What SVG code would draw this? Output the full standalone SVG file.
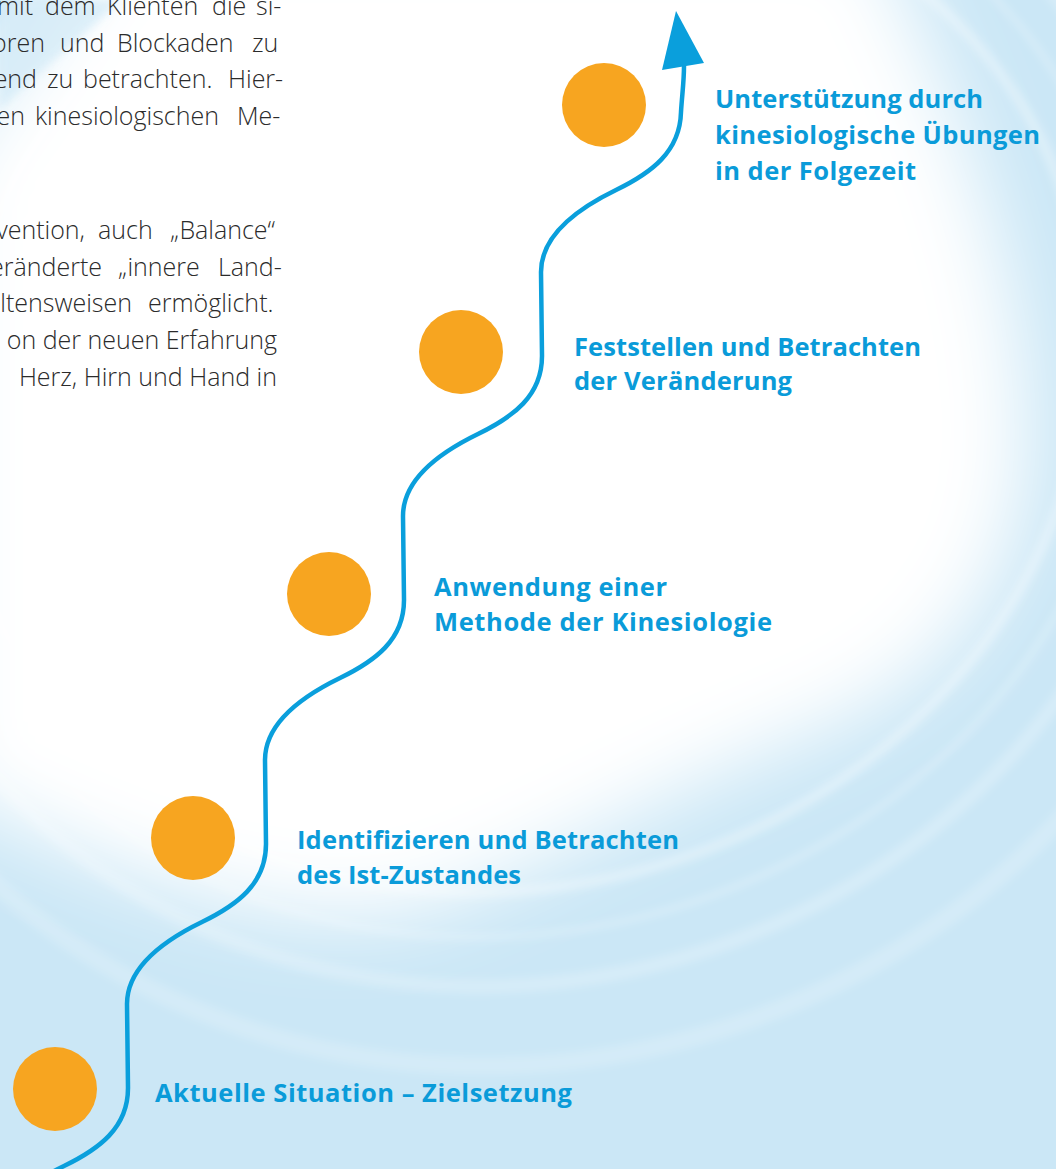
<svg xmlns="http://www.w3.org/2000/svg" width="1056" height="1169" viewBox="0 0 1056 1169">
  <defs>
    <filter id="soft" x="-20%" y="-20%" width="140%" height="140%">
      <feGaussianBlur stdDeviation="40"/>
    </filter>
    <filter id="streak" x="-10%" y="-10%" width="120%" height="120%">
      <feGaussianBlur stdDeviation="4"/>
    </filter>
    <style>
      .body { font-family: "Open Sans", "Noto Sans", "Liberation Sans", sans-serif; font-weight: 300; font-size: 25px; fill: #2b2b2b; }
      .end { text-anchor: end; }
      .label { font-family: "Open Sans", "Noto Sans", "Liberation Sans", sans-serif; font-weight: 700; font-size: 25.5px; fill: #0a9bd9; }
      .dot { fill: #f7a520; }
      .path { fill: none; stroke: #0a9fdc; stroke-width: 4.5; stroke-linecap: round; stroke-linejoin: round; }
      .arrow { fill: #0a9fdc; }
      .swirl { fill: none; stroke: #ffffff; }
    </style>
  </defs>

  <!-- background: pale blue with a soft white swirl -->
  <g id="background">
    <rect x="0" y="0" width="1056" height="1169" fill="#cbe7f6"/>
    <path filter="url(#soft)" fill="#ffffff" d="M110,-80 L870,-80 C960,100 1040,310 1025,480 C1005,610 930,690 800,740 C650,800 520,880 420,910 C300,935 160,900 -60,790 L-60,170 C0,80 50,20 110,-80 Z"/>
    <g filter="url(#streak)">
      <ellipse class="swirl" cx="520" cy="380" rx="575" ry="505" transform="rotate(-18 520 380)" stroke-width="10" opacity="0.35"/>
      <ellipse class="swirl" cx="520" cy="380" rx="620" ry="550" transform="rotate(-18 520 380)" stroke-width="5" opacity="0.3"/>
      <ellipse class="swirl" cx="520" cy="380" rx="665" ry="600" transform="rotate(-18 520 380)" stroke-width="14" opacity="0.22"/>
      <ellipse class="swirl" cx="520" cy="380" rx="740" ry="680" transform="rotate(-18 520 380)" stroke-width="18" opacity="0.18"/>
    </g>
    <!-- faint blue wisps in the upper left corner -->
    <path filter="url(#streak)" fill="#d6ecf8" opacity="0.8" d="M0,0 L120,0 C90,30 40,70 0,110 Z"/>
  </g>

  <!-- running text, cut at the left margin -->
  <g id="body-text">
    <text class="body end" x="33" y="15">mit</text>
    <text class="body" y="15"><tspan x="45">dem</tspan><tspan x="107">Klienten</tspan><tspan x="212">die</tspan><tspan x="256">si-</tspan></text>
    <text class="body end" x="45" y="52">oren</text>
    <text class="body" y="52"><tspan x="60">und</tspan><tspan x="117">Blockaden</tspan><tspan x="252">zu</tspan></text>
    <text class="body end" x="37" y="88">end</text>
    <text class="body" y="88"><tspan x="47">zu</tspan><tspan x="83">betrachten.</tspan><tspan x="228">Hier-</tspan></text>
    <text class="body end" x="25" y="125">en</text>
    <text class="body" y="125"><tspan x="35">kinesiologischen</tspan><tspan x="237">Me-</tspan></text>

    <text class="body end" x="85" y="239">vention,</text>
    <text class="body" y="239"><tspan x="98">auch</tspan><tspan x="170">„Balance“</tspan></text>
    <text class="body end" x="102" y="276">eränderte</text>
    <text class="body" y="276"><tspan x="118">„innere</tspan><tspan x="218">Land-</tspan></text>
    <text class="body end" x="132" y="312">ltensweisen</text>
    <text class="body" y="312"><tspan x="148">ermöglicht.</tspan></text>
    <text class="body end" x="277" y="349">on der neuen Erfahrung</text>
    <text class="body end" x="277" y="386">Herz, Hirn und Hand in</text>
  </g>

  <!-- winding path with arrowhead -->
  <g id="connectors">
    <path class="path" d="M-11,1332 L-11,1248 C-11,1210 29,1183 64,1166 C99,1149 128,1128 128,1088 L127,1004 C127,966 167,939 202,922 C237,905 266,884 266,844 L265,760 C265,722 305,695 340,678 C375,661 404,640 404,600 L403,516 C403,478 443,451 478,434 C513,417 542,396 542,356 L541,272 C541,234 581,207 616,190 C651,173 680,152 681,112 C682,95 684,82 684,66"/>
    <polygon class="arrow" points="676,11 704,63 662,70"/>
  </g>

  <!-- steps -->
  <g id="step-1">
    <circle class="dot" cx="55" cy="1089" r="42"/>
    <text class="label" x="155" y="1102" textLength="417" lengthAdjust="spacing">Aktuelle Situation – Zielsetzung</text>
  </g>
  <g id="step-2">
    <circle class="dot" cx="193" cy="838" r="42"/>
    <text class="label" x="297" y="849" textLength="382" lengthAdjust="spacing">Identifizieren und Betrachten</text>
    <text class="label" x="297" y="884" textLength="224" lengthAdjust="spacing">des Ist-Zustandes</text>
  </g>
  <g id="step-3">
    <circle class="dot" cx="329" cy="594" r="42"/>
    <text class="label" x="434" y="596" textLength="233" lengthAdjust="spacing">Anwendung einer</text>
    <text class="label" x="434" y="631" textLength="338" lengthAdjust="spacing">Methode der Kinesiologie</text>
  </g>
  <g id="step-4">
    <circle class="dot" cx="461" cy="352" r="42"/>
    <text class="label" x="574" y="356" textLength="347" lengthAdjust="spacing">Feststellen und Betrachten</text>
    <text class="label" x="574" y="390" textLength="218" lengthAdjust="spacing">der Veränderung</text>
  </g>
  <g id="step-5">
    <circle class="dot" cx="604" cy="105" r="42"/>
    <text class="label" x="715" y="108" textLength="268" lengthAdjust="spacing">Unterstützung durch</text>
    <text class="label" x="715" y="144" textLength="325" lengthAdjust="spacing">kinesiologische Übungen</text>
    <text class="label" x="715" y="180" textLength="201" lengthAdjust="spacing">in der Folgezeit</text>
  </g>
</svg>
